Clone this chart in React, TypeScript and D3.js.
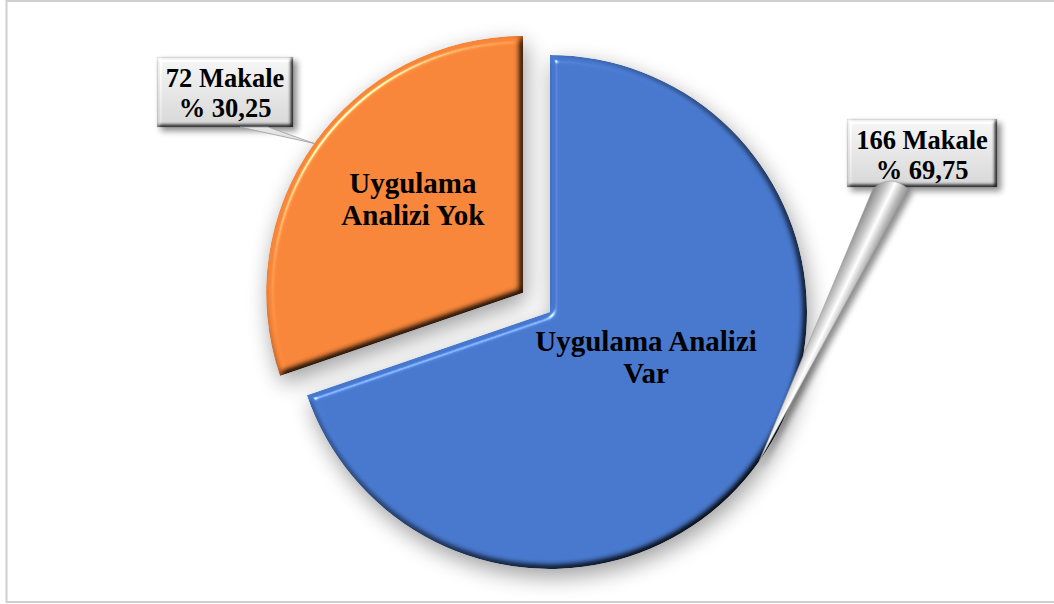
import { useEffect, useRef } from 'react';
import * as d3 from 'd3';

// article counts by whether an application analysis was done
const categories = ['Uygulama Analizi Var', 'Uygulama Analizi Yok'];
const counts = [166, 72];
const countLabels = ['166 Makale', '72 Makale'];
const percentLabels = ['% 69,75', '% 30,25'];
const sliceLabelLines = [
  ['Uygulama Analizi', 'Var'],
  ['Uygulama', 'Analizi Yok'],
];
const colors = ['#4878cd', '#f7863a'];

const W = 1054;
const H = 604;
const FONT = '"Liberation Serif", "Times New Roman", serif';

export default function App() {
  const svgRef = useRef<SVGSVGElement | null>(null);

  useEffect(() => {
    const svgEl = svgRef.current;
    if (!svgEl) return undefined;
    const svg = d3.select(svgEl);
    svg.selectAll('*').remove();

    const cx = 550;
    const cy = 312;
    const radius = 257;
    const explode = [0, 33];
    // label placement inside slices (angle in degrees, distance from slice apex)
    const innerLabel = [
      { angle: 115, r: 106 },
      { angle: 310.5, r: 145 },
    ];
    const boxes = [
      { x: 847, y: 119, w: 150, h: 68 },
      { x: 157, y: 57, w: 136, h: 70 },
    ];

    const defs = svg.append('defs');

    const shadow = defs
      .append('filter')
      .attr('id', 'softShadow')
      .attr('x', '-20%')
      .attr('y', '-20%')
      .attr('width', '140%')
      .attr('height', '140%')
      .attr('color-interpolation-filters', 'sRGB');
    shadow.append('feGaussianBlur').attr('in', 'SourceAlpha').attr('stdDeviation', 11).attr('result', 'b');
    shadow.append('feOffset').attr('in', 'b').attr('dx', 3).attr('dy', 8).attr('result', 'o');
    shadow
      .append('feComponentTransfer')
      .attr('in', 'o')
      .attr('result', 'sh')
      .append('feFuncA')
      .attr('type', 'linear')
      .attr('slope', 0.38);
    const sm = shadow.append('feMerge');
    sm.append('feMergeNode').attr('in', 'sh');
    sm.append('feMergeNode').attr('in', 'SourceGraphic');

    const boxShadow = defs
      .append('filter')
      .attr('id', 'boxShadow')
      .attr('x', '-20%')
      .attr('y', '-30%')
      .attr('width', '150%')
      .attr('height', '170%')
      .attr('color-interpolation-filters', 'sRGB');
    boxShadow.append('feGaussianBlur').attr('in', 'SourceAlpha').attr('stdDeviation', 3).attr('result', 'b');
    boxShadow.append('feOffset').attr('in', 'b').attr('dx', 4).attr('dy', 4).attr('result', 'o');
    boxShadow
      .append('feComponentTransfer')
      .attr('in', 'o')
      .attr('result', 'sh')
      .append('feFuncA')
      .attr('type', 'linear')
      .attr('slope', 0.45);
    const bm = boxShadow.append('feMerge');
    bm.append('feMergeNode').attr('in', 'sh');
    bm.append('feMergeNode').attr('in', 'SourceGraphic');

    const makeBevel = (id: string, blur: number, scale: number) => {
      const f = defs
        .append('filter')
        .attr('id', id)
        .attr('x', '-5%')
        .attr('y', '-5%')
        .attr('width', '110%')
        .attr('height', '110%')
        .attr('color-interpolation-filters', 'sRGB');
      f.append('feGaussianBlur').attr('in', 'SourceAlpha').attr('stdDeviation', blur).attr('result', 'blur');
      f.append('feDiffuseLighting')
        .attr('in', 'blur')
        .attr('surfaceScale', scale)
        .attr('diffuseConstant', 1.1547)
        .attr('lighting-color', '#ffffff')
        .attr('result', 'diff')
        .append('feDistantLight')
        .attr('azimuth', 225)
        .attr('elevation', 60);
      f.append('feComposite')
        .attr('in', 'SourceGraphic')
        .attr('in2', 'diff')
        .attr('operator', 'arithmetic')
        .attr('k1', 1)
        .attr('k2', 0)
        .attr('k3', 0)
        .attr('k4', 0)
        .attr('result', 'shaded');
      f.append('feSpecularLighting')
        .attr('in', 'blur')
        .attr('surfaceScale', scale)
        .attr('specularConstant', 0.6)
        .attr('specularExponent', 60)
        .attr('lighting-color', '#ffffff')
        .attr('result', 'spec')
        .append('feDistantLight')
        .attr('azimuth', 225)
        .attr('elevation', 45);
      f.append('feComposite')
        .attr('in', 'spec')
        .attr('in2', 'SourceAlpha')
        .attr('operator', 'in')
        .attr('result', 'specIn');
      f.append('feComposite')
        .attr('in', 'shaded')
        .attr('in2', 'specIn')
        .attr('operator', 'arithmetic')
        .attr('k1', 0)
        .attr('k2', 1)
        .attr('k3', 1)
        .attr('k4', 0)
        .attr('result', 'lit');
      f.append('feComposite').attr('in', 'lit').attr('in2', 'SourceAlpha').attr('operator', 'in');
    };
    makeBevel('sliceBevel', 3.5, 6);
    makeBevel('boxBevel', 2, 4);

    const boxGrad = defs
      .append('linearGradient')
      .attr('id', 'boxGrad')
      .attr('x1', 0)
      .attr('y1', 0)
      .attr('x2', 0)
      .attr('y2', 1);
    boxGrad.append('stop').attr('offset', 0).attr('stop-color', '#f6f6f6');
    boxGrad.append('stop').attr('offset', 1).attr('stop-color', '#d6d6d6');

    // chart frame
    svg
      .append('rect')
      .attr('x', 6.5)
      .attr('y', 1)
      .attr('width', W + 20)
      .attr('height', H - 3)
      .attr('fill', '#ffffff')
      .attr('stroke', '#d0d0d0')
      .attr('stroke-width', 2);

    const pie = d3
      .pie<number>()
      .sort(null)
      .value(d => d);
    const arcs = pie(counts);
    const arc = d3
      .arc<d3.PieArcDatum<number>>()
      .innerRadius(0)
      .outerRadius(radius);

    const apex = arcs.map((a, i) => {
      const mid = (a.startAngle + a.endAngle) / 2;
      return [cx + explode[i] * Math.sin(mid), cy - explode[i] * Math.cos(mid)];
    });

    const slices = svg.append('g').attr('filter', 'url(#softShadow)');
    arcs.forEach((a, i) => {
      slices
        .append('path')
        .attr('transform', `translate(${apex[i][0]},${apex[i][1]})`)
        .attr('d', arc(a) as string)
        .attr('fill', colors[i])
        .attr('filter', 'url(#sliceBevel)')
        .append('title')
        .text(categories[i]);
    });

    // labels inside slices
    arcs.forEach((_, i) => {
      const rad = (innerLabel[i].angle * Math.PI) / 180;
      const lx = apex[i][0] + innerLabel[i].r * Math.sin(rad);
      const ly = apex[i][1] - innerLabel[i].r * Math.cos(rad);
      const t = svg
        .append('text')
        .attr('text-anchor', 'middle')
        .attr('font-family', FONT)
        .attr('font-weight', 'bold')
        .attr('font-size', 29)
        .attr('fill', '#000');
      sliceLabelLines[i].forEach((line, j) => {
        t.append('tspan')
          .attr('x', lx)
          .attr('y', ly - 6 + j * 32)
          .text(line);
      });
    });

    // callout boxes with leaders pointing at the outer arc midpoint
    arcs.forEach((a, i) => {
      const mid = (a.startAngle + a.endAngle) / 2;
      const tipX = apex[i][0] + radius * Math.sin(mid);
      const tipY = apex[i][1] - radius * Math.cos(mid);
      const b = boxes[i];
      const bcx = b.x + b.w / 2;
      const g = svg.append('g');

      const boxG = g.append('g').attr('filter', 'url(#boxShadow)');
      boxG
        .append('rect')
        .attr('x', b.x)
        .attr('y', b.y)
        .attr('width', b.w)
        .attr('height', b.h)
        .attr('fill', 'url(#boxGrad)')
        .attr('stroke', '#bdbdbd')
        .attr('stroke-width', 0.6)
        .attr('filter', 'url(#boxBevel)');

      if (i === 0) {
        // thick silver wedge below the box
        const baseL = bcx - 49;
        const baseR = bcx - 14;
        const baseY = b.y + b.h + 2;
        const dirX = tipX - (baseL + baseR) / 2;
        const dirY = tipY - baseY;
        const len = Math.hypot(dirX, dirY);
        const px = -dirY / len;
        const py = dirX / len;
        const mX = (baseL + baseR) / 2;
        const gid = 'wedgeGrad';
        const wg = defs
          .append('linearGradient')
          .attr('id', gid)
          .attr('gradientUnits', 'userSpaceOnUse')
          .attr('x1', mX + px * 18)
          .attr('y1', baseY + py * 18)
          .attr('x2', mX - px * 18)
          .attr('y2', baseY - py * 18);
        wg.append('stop').attr('offset', 0).attr('stop-color', '#7a7a7a');
        wg.append('stop').attr('offset', 0.35).attr('stop-color', '#c8c8c8');
        wg.append('stop').attr('offset', 0.55).attr('stop-color', '#ffffff');
        wg.append('stop').attr('offset', 0.8).attr('stop-color', '#b4b4b4');
        wg.append('stop').attr('offset', 1).attr('stop-color', '#8a8a8a');
        g.append('path')
          .attr('d', `M${tipX},${tipY}L${baseL},${baseY}Q${mX},${baseY - 16} ${baseR},${baseY}Z`)
          .attr('fill', `url(#${gid})`)
          .attr('stroke', '#9a9a9a')
          .attr('stroke-width', 0.6)
          .attr('filter', 'url(#boxShadow)');
      } else {
        const baseY = b.y + b.h;
        g.append('path')
          .attr('d', `M${tipX},${tipY}L${bcx + 15},${baseY}L${bcx + 43},${baseY}Z`)
          .attr('fill', '#e4e4e4')
          .attr('stroke', '#9c9c9c')
          .attr('stroke-width', 0.8);
      }

      const t = g
        .append('text')
        .attr('text-anchor', 'middle')
        .attr('font-family', FONT)
        .attr('font-weight', 'bold')
        .attr('font-size', 26.5)
        .attr('fill', '#000');
      [countLabels[i], percentLabels[i]].forEach((line, j) => {
        t.append('tspan')
          .attr('x', bcx)
          .attr('y', b.y + 30 + j * 30)
          .text(line);
      });
    });

    return () => {
      svg.selectAll('*').remove();
    };
  }, []);

  return (
    <svg
      ref={svgRef}
      width={W}
      height={H}
      style={{ position: 'absolute', left: 0, top: 0, display: 'block' }}
    />
  );
}
